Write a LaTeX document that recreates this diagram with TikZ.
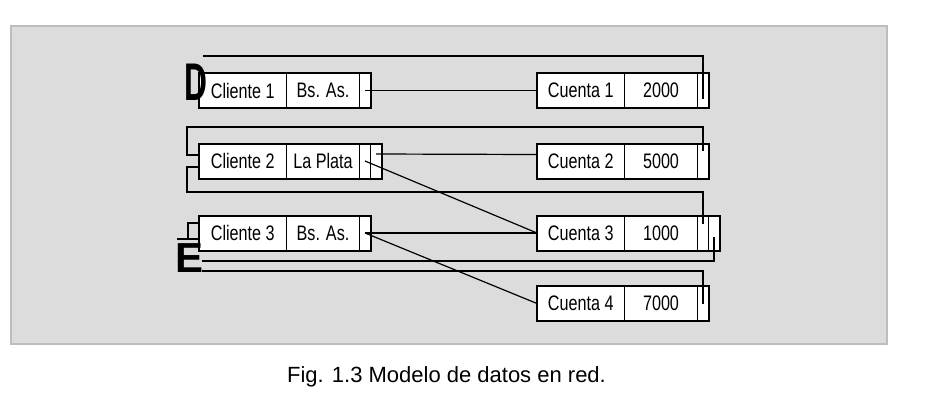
\documentclass[tikz,border=0pt]{standalone}
\usepackage{fontspec}
\setmainfont{Liberation Sans}
\newfontfamily\narrowsf[FakeStretch=0.77]{Liberation Sans}
\usetikzlibrary{positioning}
\definecolor{panel}{HTML}{DCDCDC}
\definecolor{panelrim}{HTML}{BDBDBD}
\begin{document}
\begin{tikzpicture}[x=1pt, y=-1pt,
  cell/.style={draw, line width=0.9pt, fill=white, minimum height=35pt, inner sep=0pt, outer sep=0pt, font=\narrowsf\fontsize{21}{22}\selectfont},
  wide/.style={cell, minimum width=87.5pt},
  mid/.style={cell, minimum width=73pt},
  ptr/.style={cell, minimum width=11pt},
  box/.style={line width=2pt},
  link/.style={line width=1.2pt}]
\useasboundingbox (0,0) rectangle (947,413);
\fill[panel] (10,25) rectangle (888,345);
\draw[panelrim, line width=2pt] (11,26) rectangle (887,344);
% clientes
\node[wide] (c1n) at (242.75,90.5) {Cliente 1};
\node[mid, right=0pt of c1n] (c1c) {Bs. As.};
\node[ptr, right=0pt of c1c] (c1p) {};
\node[wide] (c2n) at (242.75,161) {Cliente 2};
\node[mid, right=0pt of c2n] (c2c) {La Plata};
\node[ptr, right=0pt of c2c] (c2p) {};
\node[ptr, right=0pt of c2p] (c2q) {};
\node[wide] (c3n) at (242.75,233) {Cliente 3};
\node[mid, right=0pt of c3n] (c3c) {Bs. As.};
\node[ptr, right=0pt of c3c] (c3p) {};
% cuentas
\node[wide] (k1n) at (580.75,90.5) {Cuenta 1};
\node[mid, right=0pt of k1n] (k1a) {2000};
\node[ptr, right=0pt of k1a] (k1p) {};
\node[wide] (k2n) at (580.75,161.5) {Cuenta 2};
\node[mid, right=0pt of k2n] (k2a) {5000};
\node[ptr, right=0pt of k2a] (k2p) {};
\node[wide] (k3n) at (580.75,233) {Cuenta 3};
\node[mid, right=0pt of k3n] (k3a) {1000};
\node[ptr, right=0pt of k3a] (k3p) {};
\node[ptr, right=0pt of k3p] (k3q) {};
\node[wide] (k4n) at (580.75,303.5) {Cuenta 4};
\node[mid, right=0pt of k4n] (k4a) {7000};
\node[ptr, right=0pt of k4a] (k4p) {};
\draw[box] (c1n.north west) rectangle (c1p.south east);
\draw[box] (c2n.north west) rectangle (c2q.south east);
\draw[box] (c3n.north west) rectangle (c3p.south east);
\draw[box] (k1n.north west) rectangle (k1p.south east);
\draw[box] (k2n.north west) rectangle (k2p.south east);
\draw[box] (k3n.north west) rectangle (k3q.south east);
\draw[box] (k4n.north west) rectangle (k4p.south east);
\node[inner sep=0pt] (D) at (196,82) {\scalebox{0.6}[1]{\fontsize{53}{53}\selectfont\bfseries D}};
\node[inner sep=0pt] (E) at (190,258) {\fontsize{42}{42}\selectfont\bfseries E};
\coordinate (d1) at (203,56);
\coordinate (l2) at (187,127);
\coordinate (l3) at (187,192);
\coordinate (e1) at (202,261);
\coordinate (e2) at (202,271);
\coordinate (s1) at (177,239);
\coordinate (s2) at (188,239);
\draw[link] (c1p.center) -- (k1n.west);
\draw[link] ([yshift=-8pt]k1p.center) |- (d1);
\draw[link] ([yshift=11pt]k2p.center) |- (l2) |- ([yshift=6pt]c2n.west);
\draw[link] ([yshift=-6pt]c2n.west) -| (l3) -| ([yshift=9pt]k3p.center);
\draw[link] ([yshift=-4pt]k3q.center) |- (e1);
\draw[link] (k4p.center) |- (e2);
\draw[link] ([yshift=7pt]c2q.center) -- ([yshift=7pt]k2n.west);
\draw[link] (c2p.center) -- (k3n.west);
\draw[link] (c3p.center) -- (k3n.west);
\draw[link] (c3p.center) -- (k4n.west);
\draw[link] (s1) -- ([yshift=-6pt]c3n.west);
\draw[link] ([yshift=10pt]c3n.west) -| (s2);
\node[anchor=base, font=\fontsize{22}{24}\selectfont] (cap) at (446.5,382) {Fig. 1.3 Modelo de datos en red.};
\end{tikzpicture}
\end{document}
